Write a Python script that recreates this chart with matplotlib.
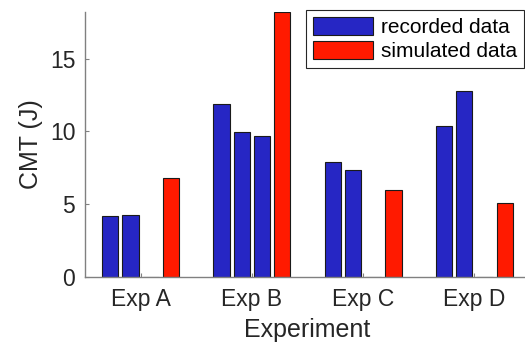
import numpy as np
import matplotlib
matplotlib.use("Agg")
import matplotlib.pyplot as plt

# data
experiments = ['Exp A', 'Exp B', 'Exp C', 'Exp D']
recorded_1 = [4.2, 11.9, 7.9, 10.4]
recorded_2 = [4.25, 9.95, 7.35, 12.75]
recorded_3 = [0, 9.7, 0, 0]
simulated = [6.8, 18.2, 5.95, 5.05]

blue = '#2626c4'
red = '#ff1a00'
axis_gray = '#808080'
text_col = '#262626'

plt.rcParams['font.family'] = ['Liberation Sans', 'DejaVu Sans']

fig = plt.figure(figsize=(5.25, 3.45), dpi=100)
ax = fig.add_axes([85 / 525, 68 / 345, 445 / 525, 265 / 345])

x = np.arange(1, len(experiments) + 1)
step = min(0.8, 4 / 5.5) / 4  # MATLAB grouped bar spacing
width = 0.81 * step
series = [recorded_1, recorded_2, recorded_3, simulated]
colors = [blue, blue, blue, red]
labels = ['recorded data', None, None, 'simulated data']
for i, (vals, col, lab) in enumerate(zip(series, colors, labels)):
    ax.bar(x + (i - 1.5) * step, vals, width, color=col, edgecolor='#1a1a1a',
           linewidth=0.8, label=lab, zorder=2)

ax.set_xlim(0.5, 4.5)
ax.set_ylim(0, 18.2)
ax.set_xticks(x)
ax.set_xticklabels(experiments)
ax.set_yticks([0, 5, 10, 15])

for side in ['top', 'right']:
    ax.spines[side].set_visible(False)
for side in ['left', 'bottom']:
    ax.spines[side].set_color(axis_gray)
    ax.spines[side].set_linewidth(1.0)
    ax.spines[side].set_zorder(3)

ax.tick_params(direction='in', length=3, width=0.8, color=axis_gray,
               labelcolor=text_col, labelsize=16.5)
ax.tick_params(axis='x', pad=8)
ax.tick_params(axis='y', pad=7)

ax.set_xlabel('Experiment', fontsize=18, color=text_col, labelpad=5)
ax.set_ylabel('CMT (J)', fontsize=18, color=text_col, labelpad=5)

leg = ax.legend(loc='upper right', bbox_to_anchor=(524 / 525, 1 - 10 / 345),
                bbox_transform=fig.transFigure, fontsize=15, frameon=True,
                fancybox=False, framealpha=1, edgecolor=text_col,
                handlelength=2.9, handleheight=0.9, handletextpad=0.35,
                labelspacing=0.2, borderpad=0.35, borderaxespad=0)
leg.get_frame().set_linewidth(0.8)
for t in leg.get_texts():
    t.set_color('black')

fig.savefig('out.png', dpi=100)
